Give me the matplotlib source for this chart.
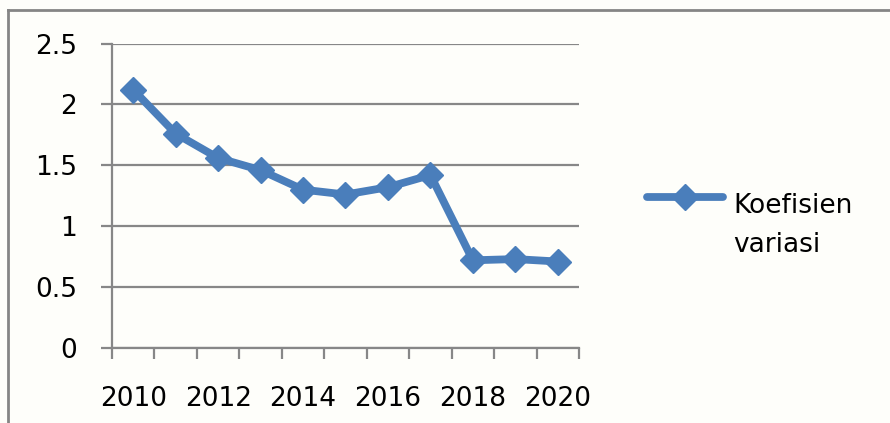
import matplotlib
matplotlib.use("Agg")
import matplotlib.pyplot as plt
from matplotlib.lines import Line2D
import numpy as np

years = [2010, 2011, 2012, 2013, 2014, 2015, 2016, 2017, 2018, 2019, 2020]
koefisien_variasi = [2.12, 1.76, 1.56, 1.46, 1.30, 1.26, 1.32, 1.42, 0.72, 0.73, 0.71]
y_ticks = [0, 0.5, 1, 1.5, 2, 2.5]
y_tick_labels = ["0", "0.5", "1", "1.5", "2", "2.5"]
series_label_lines = ["Koefisien", "variasi"]

plt.rcParams['font.family'] = ['DejaVu Sans']
FS = 19

W, H = 890, 423
fig = plt.figure(figsize=(W / 100, H / 100), dpi=100)
fig.patch.set_facecolor('#FEFEFA')

# outer frame fragments
fig.add_artist(Line2D([8 / W, 1], [1 - 10 / H, 1 - 10 / H], transform=fig.transFigure,
                      color='#858585', lw=2))
fig.add_artist(Line2D([8 / W, 8 / W], [0, 1 - 10 / H], transform=fig.transFigure,
                      color='#858585', lw=2))

left, right = 112 / W, 579 / W
bottom, top = 1 - 348 / H, 1 - 43.5 / H
ax = fig.add_axes([left, bottom, right - left, top - bottom])
ax.set_facecolor('none')

n = len(years)
x = np.arange(n)
blue = '#4A7EBB'
ax.plot(x, koefisien_variasi, color=blue, lw=5.6, marker='D', markersize=13,
        markeredgecolor=blue, markerfacecolor=blue, solid_joinstyle='round',
        solid_capstyle='round', zorder=3)

ax.set_xlim(-0.5, n - 0.5)
ax.set_ylim(0, 2.5)

grid_c = '#878787'
ax.set_yticks(y_ticks)
ax.set_yticklabels(y_tick_labels)
ax.yaxis.grid(True, color=grid_c, lw=1.6)
ax.set_axisbelow(True)
ax.tick_params(axis='y', length=8, width=1.6, color=grid_c, pad=17, labelsize=FS)

# category boundary ticks
ax.set_xticks(np.arange(-0.5, n, 1.0))
ax.set_xticklabels([])
ax.tick_params(axis='x', which='major', length=8, width=1.6, color=grid_c, direction='out')
# labels at every other category centre
ax.set_xticks(x[::2], minor=True)
ax.set_xticklabels([str(y) for y in years[::2]], minor=True)
ax.tick_params(axis='x', which='minor', length=0, pad=27, labelsize=FS)

for s in ['top', 'right']:
    ax.spines[s].set_visible(False)
for s in ['left', 'bottom']:
    ax.spines[s].set_color(grid_c)
    ax.spines[s].set_linewidth(1.6)

# legend (manual placement)
fig.add_artist(Line2D([647 / W, 723 / W], [1 - 197 / H, 1 - 197 / H],
                      transform=fig.transFigure, color=blue, lw=5.6,
                      solid_capstyle='round'))
fig.add_artist(Line2D([685 / W], [1 - 197 / H], transform=fig.transFigure,
                      color=blue, marker='D', markersize=13, markeredgecolor=blue,
                      markerfacecolor=blue, linestyle='none'))
fig.text(733 / W, 1 - 213 / H, series_label_lines[0], fontsize=FS,
         ha='left', va='baseline')
fig.text(733 / W, 1 - 252 / H, series_label_lines[1], fontsize=FS,
         ha='left', va='baseline')

fig.savefig('out.png', dpi=100, facecolor=fig.get_facecolor())
